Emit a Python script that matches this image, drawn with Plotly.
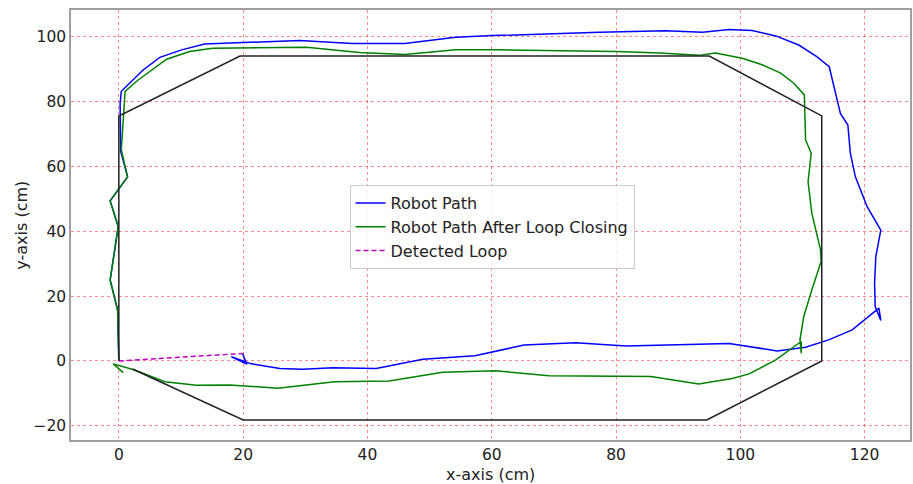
import plotly.graph_objects as go

# Robot path (odometry)
blue_x = [0, -0.2, -1.4, -0.1, -1.4, 1.4, 0.3, 0.2, 0.4, 2.3, 3.9, 6.6, 10.1, 13.8, 29.1, 37.6, 46.0,
          54.2, 60.1, 77.3, 88.0, 93.9, 98.2, 101.9, 105.7, 109.4, 112.3, 114.3, 116.1, 117.3, 117.7,
          118.5, 120.4, 122.6, 121.8, 121.6, 121.7, 122.6, 122.3, 118.0, 114.2, 110.5, 105.9, 98.2,
          93.3, 81.6, 73.5, 65.2, 57.3, 48.9, 41.4, 34.4, 29.6, 25.9, 21.3, 18.1, 20.6, 19.9]
blue_y = [0, 15.7, 25.0, 41.5, 49.4, 56.8, 64.7, 79.5, 83.2, 86.7, 89.8, 93.7, 96.0, 97.8, 98.9, 98.0,
          98.0, 99.9, 100.4, 101.4, 101.9, 101.4, 102.3, 102.0, 100.3, 97.5, 93.9, 90.8, 76.4, 72.8,
          64.1, 56.9, 47.6, 40.4, 32.2, 24.0, 16.8, 12.5, 16.3, 9.6, 6.5, 4.2, 3.1, 5.4, 5.1, 4.6,
          5.6, 4.9, 1.6, 0.5, -2.3, -2.1, -2.6, -2.3, -0.9, 1.3, -1.0, 2.3]

# Robot path after loop closing
green_x = [0, -0.2, -1.4, -0.1, -1.4, 1.4, 0.4, 0.8, 1.0, 3.1, 7.7, 11.4, 15.1, 30.2, 38.7, 46.0, 54.2,
           61.2, 80.0, 87.0, 93.3, 96.0, 100.3, 103.5, 106.5, 108.6, 110.3, 110.5, 111.4, 110.9,
           111.5, 112.9, 113.0, 111.5, 110.5, 110.2, 109.6, 109.8, 109.8, 105.7, 101.4, 98.7, 93.3,
           85.6, 69.2, 60.5, 52.1, 43.5, 34.7, 25.6, 17.8, 12.5, 7.4, 2.4, -0.9, 0.7]
green_y = [0, 15.7, 25.0, 41.5, 49.4, 56.8, 65.1, 78.5, 83.2, 86.7, 93.1, 95.5, 96.5, 96.8, 95.2, 94.6,
           96.0, 96.0, 95.5, 95.0, 94.3, 95.0, 93.4, 91.4, 88.8, 85.7, 82.1, 68.2, 64.1, 55.3, 45.6,
           34.3, 30.7, 21.9, 15.7, 13.7, 6.5, 2.4, 6.0, 0.3, -4.0, -5.4, -7.1, -4.8, -4.6, -3.0,
           -3.5, -6.2, -6.4, -8.4, -7.4, -7.5, -6.4, -2.7, -0.9, -3.6]

# Detected loop
loop_x = [0, 19.9]
loop_y = [0, 2.3]

# Ground-truth track
track_x = [2.2, 20.0, 94.6, 113.1, 113.1, 95.0, 19.5, 0.0, 0.0]
track_y = [-2.5, -18.2, -18.2, 0.0, 75.6, 94.1, 94.1, 75.6, 0.0]

x_ticks = [0, 20, 40, 60, 80, 100, 120]
y_ticks = [-20, 0, 20, 40, 60, 80, 100]

fig = go.Figure()
fig.add_trace(go.Scatter(x=blue_x, y=blue_y, mode="lines", name="Robot Path",
                         line=dict(color="#0000ff", width=1.5)))
fig.add_trace(go.Scatter(x=green_x, y=green_y, mode="lines", name="Robot Path After Loop Closing",
                         line=dict(color="#008000", width=1.5)))
fig.add_trace(go.Scatter(x=loop_x, y=loop_y, mode="lines", name="Detected Loop",
                         line=dict(color="#bf00bf", width=1.5, dash="5px,3px")))
fig.add_trace(go.Scatter(x=track_x, y=track_y, mode="lines", showlegend=False,
                         line=dict(color="#222222", width=1.5)))

font = "DejaVu Sans"
axis_common = dict(
    showgrid=True, gridcolor="rgba(255,0,0,0.45)", griddash="dot", gridwidth=1,
    zeroline=False, showline=True, linecolor="#a0a0a0", linewidth=1.5, mirror=True,
    ticks="", tickfont=dict(family=font, size=15.5, color="#222"),
)
fig.update_layout(
    width=913, height=484,
    margin=dict(l=71, r=1, t=10, b=44),
    paper_bgcolor="white", plot_bgcolor="white",
    font=dict(family=font, size=16, color="#222"),
    xaxis=dict(range=[-7.7, 127.3], tickvals=x_ticks, **axis_common),
    yaxis=dict(range=[-24.4, 108.3], tickvals=y_ticks, **axis_common),
    legend=dict(x=0.332, y=0.593, xanchor="left", yanchor="top",
                bgcolor="rgba(255,255,255,0.85)", bordercolor="#cccccc", borderwidth=1,
                font=dict(family=font, size=16), tracegroupgap=0, itemwidth=30),
    showlegend=True,
    annotations=[
        dict(text="x-axis (cm)", xref="paper", yref="paper", x=0.5, y=-0.08,
             xanchor="center", yanchor="middle", showarrow=False,
             font=dict(family=font, size=16, color="#222")),
        dict(text="y-axis (cm)", xref="paper", yref="paper", x=-0.06, y=0.5,
             xanchor="center", yanchor="middle", showarrow=False, textangle=-90,
             font=dict(family=font, size=16, color="#222")),
    ],
)
fig.write_html("out.html")
